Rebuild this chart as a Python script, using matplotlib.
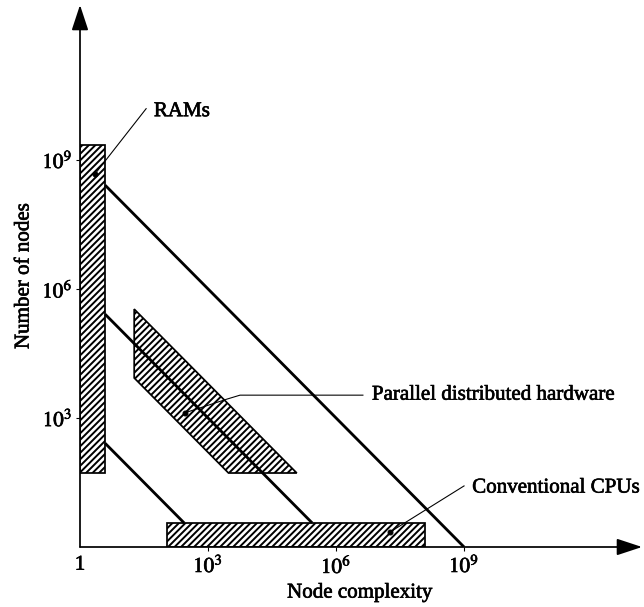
import numpy as np
import matplotlib
matplotlib.use("Agg")
import matplotlib.pyplot as plt
import matplotlib.patheffects as pe
from matplotlib.patches import Polygon

plt.rcParams['font.family'] = 'serif'
plt.rcParams['font.serif'] = ['Liberation Serif', 'DejaVu Serif']
plt.rcParams['mathtext.fontset'] = 'stix'
plt.rcParams['hatch.linewidth'] = 1.8

# All quantities are decimal exponents (log10 of node complexity / number of nodes)
tick_exps = [3, 6, 9]
tick_labels = [r'$10^{3}$', r'$10^{6}$', r'$10^{9}$']

# RAMs: simple nodes, huge counts
ram_x = [0.0, 0.59]
ram_y = [1.72, 9.35]

# Conventional CPUs: complex nodes, very few of them
cpu_x = [2.04, 8.09]
cpu_y = [0.0, 0.56]

# Parallel distributed hardware: band between two iso-total lines
pdh_x = [1.27, 1.27, 3.48, 5.08]
pdh_y = [5.53, 3.93, 1.72, 1.72]

# Constant total-complexity lines: complexity x nodes = 10^3, 10^6, 10^9
total_exps = [3, 6, 9]
line_start_x = [0.59, 0.59, 0.59]
line_end_y = [0.56, 0.56, 0.0]

# Callouts: (dot, leader path, text position, text)
ram_dot = (0.35, 8.67)
ram_leader = [(0.35, 8.67), (1.55, 10.19)]
ram_text = (1.73, 10.12, 'RAMs')

pdh_dot = (2.46, 3.12)
pdh_leader = [(2.46, 3.12), (3.45, 3.44), (3.75, 3.53), (6.63, 3.53)]
pdh_text = (6.84, 3.53, 'Parallel distributed hardware')

cpu_dot = (7.27, 0.35)
cpu_leader = [(7.27, 0.35), (9.0, 1.42)]
cpu_text = (9.19, 1.37, 'Conventional CPUs')

DPI = 78
FS = 19.4
heavy = [pe.withStroke(linewidth=0.6, foreground='black')]

fig = plt.figure(figsize=(644 / DPI, 607 / DPI), dpi=DPI)
ax = fig.add_axes([80 / 644, 60 / 607, 562 / 644, 542 / 607])
ax.set_xscale('log')
ax.set_yscale('log')
ax.set_xlim(1, 10 ** 13.17)
ax.set_ylim(1, 10 ** 12.6)

p = lambda e: 10.0 ** np.asarray(e, dtype=float)

def rect(xs, ys):
    return [(xs[0], ys[0]), (xs[1], ys[0]), (xs[1], ys[1]), (xs[0], ys[1])]

shapes = [rect(ram_x, ram_y), rect(cpu_x, cpu_y), list(zip(pdh_x, pdh_y))]
for verts in shapes:
    v = np.array(verts, dtype=float)
    ax.add_patch(Polygon(np.column_stack([p(v[:, 0]), p(v[:, 1])]), closed=True,
                         facecolor='white', edgecolor='black', hatch='////',
                         linewidth=1.6, zorder=2))

for tot, x0, y1 in zip(total_exps, line_start_x, line_end_y):
    xs = np.array([x0, tot - y1])
    ys = tot - xs
    ax.plot(p(xs), p(ys), color='black', lw=2.6, solid_capstyle='butt', zorder=3)

for dot, path, (tx, ty, s) in [(ram_dot, ram_leader, ram_text),
                               (pdh_dot, pdh_leader, pdh_text),
                               (cpu_dot, cpu_leader, cpu_text)]:
    pa = np.array(path, dtype=float)
    ax.plot(p(pa[:, 0]), p(pa[:, 1]), color='black', lw=1.0, zorder=4)
    ax.plot(p(dot[0]), p(dot[1]), 'o', color='black', ms=4.5, zorder=5)
    ax.text(p(tx), p(ty), s, fontsize=FS, ha='left', va='center', zorder=5,
            path_effects=heavy)

# Axes as plain arrows
for s in ax.spines.values():
    s.set_visible(False)
arrow = dict(arrowstyle='-|>,head_length=1.0,head_width=0.33', lw=1.6,
             color='black', shrinkA=0, shrinkB=0, mutation_scale=20)
ax.annotate('', xy=(1.0, 0.0), xytext=(0.0, 0.0), xycoords='axes fraction',
            textcoords='axes fraction', arrowprops=arrow, zorder=6)
ax.annotate('', xy=(0.0, 1.0), xytext=(0.0, 0.0), xycoords='axes fraction',
            textcoords='axes fraction', arrowprops=arrow, zorder=6)

ax.minorticks_off()
ax.set_xticks([1] + list(p(tick_exps)))
ax.set_xticklabels(['1'] + tick_labels, fontsize=FS)
ax.set_yticks(list(p(tick_exps)))
ax.set_yticklabels(tick_labels, fontsize=FS)
ax.tick_params(axis='x', direction='out', length=4, width=1, pad=4)
ax.tick_params(axis='y', direction='out', length=4, width=1, pad=3)
ax.xaxis.get_major_ticks()[0].tick1line.set_visible(False)
for lab in ax.get_xticklabels() + ax.get_yticklabels():
    lab.set_path_effects(heavy)

ax.set_xlabel('Node complexity', fontsize=FS, va='center', ha='center',
              path_effects=heavy)
ax.xaxis.set_label_coords(0.498, -0.085)
ax.set_ylabel('Number of nodes', fontsize=FS, va='center', ha='center',
              path_effects=heavy)
ax.yaxis.set_label_coords(-0.0996, 0.5)

fig.savefig('out.png', dpi=DPI)
